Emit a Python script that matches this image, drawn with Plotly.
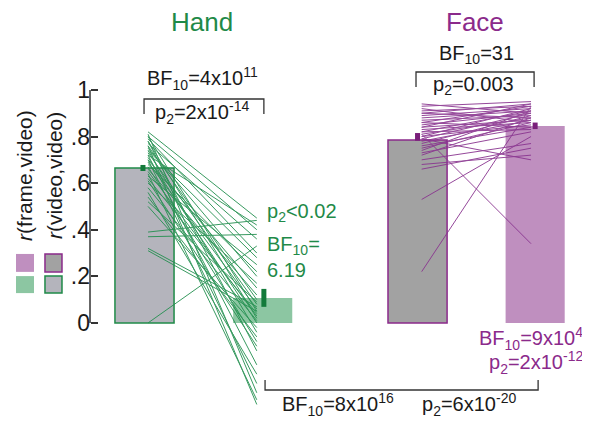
import plotly.graph_objects as go

# ---------------- data ----------------
conditions = ["Hand", "Face"]
bar_x = [0.0, 1.0, 2.31, 3.305]               # hand-frame, hand-video, face-frame, face-video
bar_means = [0.665, 0.107, 0.785, 0.845]
sem_low = [0.652, 0.069, 0.782, 0.832]
sem_high = [0.678, 0.146, 0.815, 0.860]

hand_frame = [0.82, 0.81, 0.80, 0.80, 0.79, 0.78, 0.78, 0.77, 0.76, 0.76, 0.75, 0.74, 0.74,
              0.73, 0.72, 0.72, 0.71, 0.70, 0.70, 0.69, 0.68, 0.67, 0.66, 0.65, 0.64, 0.63,
              0.62, 0.61, 0.60, 0.58, 0.56, 0.54, 0.52, 0.50, 0.39, 0.37, 0.32, 0.31, 0.00]
hand_video = [0.45, -0.30, 0.40, 0.05, 0.30, -0.12, 0.02, 0.36, -0.35, 0.10, 0.20, -0.04, 0.28,
              0.08, -0.18, 0.42, 0.00, 0.15, -0.26, 0.06, 0.22, -0.08, 0.12, 0.03, -0.33, 0.25,
              0.04, -0.10, 0.17, 0.01, -0.22, -0.06, 0.09, -0.02, 0.44, 0.38, 0.07, 0.05, 0.33]

face_frame = [0.94, 0.93, 0.92, 0.91, 0.90, 0.90, 0.89, 0.88, 0.87, 0.86, 0.86, 0.85, 0.84,
              0.84, 0.83, 0.82, 0.82, 0.81, 0.80, 0.80, 0.79, 0.78, 0.77, 0.76, 0.75, 0.74,
              0.73, 0.72, 0.70, 0.68, 0.66, 0.53, 0.22, 0.81, 0.79]
face_video = [0.90, 0.95, 0.86, 0.93, 0.94, 0.88, 0.92, 0.91, 0.89, 0.93, 0.84, 0.90, 0.87,
              0.94, 0.86, 0.91, 0.83, 0.88, 0.92, 0.85, 0.90, 0.87, 0.89, 0.84, 0.86, 0.91,
              0.82, 0.88, 0.77, 0.72, 0.75, 0.80, 0.93, 0.34, 0.70]

tick_vals = [0, 0.2, 0.4, 0.6, 0.8, 1.0]
tick_text = ["0", ".2", ".4", ".6", ".8", "1"]

# ---------------- styles ----------------
FONT = "Liberation Sans, Arial, sans-serif"
GREEN_TXT = "#1f8a48"
PURPLE_TXT = "#8b2a8b"
GREEN_LINE = "#249050"
PURPLE_LINE = "#8a3590"
GREEN_DARK = "#137a3a"
PURPLE_DARK = "#7a1f7a"
GREEN_LIGHT = "#8cc6a2"
PURPLE_LIGHT = "#bf8fbf"
GRAY_HAND = "#b4b4bc"
GRAY_FACE = "#a2a2a2"
BLACK = "#1a1a1a"

fig = go.Figure()

# bars
bar_fill = [GRAY_HAND, GREEN_LIGHT, GRAY_FACE, PURPLE_LIGHT]
bar_edge = [GREEN_TXT, GREEN_LIGHT, PURPLE_TXT, PURPLE_LIGHT]
bar_edge_w = [1.5, 0, 1.5, 0]
for i in range(4):
    fig.add_trace(go.Bar(x=[bar_x[i]], y=[bar_means[i]], width=0.5,
                         marker=dict(color=bar_fill[i], line=dict(color=bar_edge[i], width=bar_edge_w[i])),
                         showlegend=False, hoverinfo="skip"))

# subject lines
def pair_lines(x0, x1, a, b):
    xs, ys = [], []
    for u, v in zip(a, b):
        xs += [x0, x1, None]
        ys += [u, v, None]
    return xs, ys

hx, hy = pair_lines(bar_x[0] + 0.03, bar_x[1] - 0.05, hand_frame, hand_video)
fig.add_trace(go.Scatter(x=hx, y=hy, mode="lines", line=dict(color=GREEN_LINE, width=1),
                         opacity=0.9, showlegend=False, hoverinfo="skip"))
fx, fy = pair_lines(bar_x[2] + 0.035, bar_x[3] - 0.035, face_frame, face_video)
fig.add_trace(go.Scatter(x=fx, y=fy, mode="lines", line=dict(color=PURPLE_LINE, width=1),
                         opacity=0.9, showlegend=False, hoverinfo="skip"))

# SEM markers
sem_cols = [GREEN_DARK, GREEN_DARK, PURPLE_DARK, PURPLE_DARK]
sem_dx = [-0.013, 0.01, 0.0, 0.0]
for i in range(4):
    fig.add_trace(go.Scatter(x=[bar_x[i] + sem_dx[i]] * 2, y=[sem_low[i], sem_high[i]], mode="lines",
                             line=dict(color=sem_cols[i], width=5), showlegend=False, hoverinfo="skip"))

# y-axis line
fig.add_shape(type="line", x0=-0.461, x1=-0.461, y0=0, y1=1, line=dict(color="#333333", width=1.5))

# brackets
def bracket(x0, x1, y, y_end):
    fig.add_shape(type="path",
                  path=f"M {x0} {y_end} L {x0} {y} L {x1} {y} L {x1} {y_end}",
                  line=dict(color="#333333", width=1.3))

bracket(-0.004, 1.01, 0.961, 0.897)
bracket(2.297, 3.296, 1.077, 1.013)
bracket(1.02, 3.33, -0.288, -0.245)

# legend squares
def square(x0, x1, y0, y1, fill, edge=None):
    fig.add_shape(type="rect", x0=x0, x1=x1, y0=y0, y1=y1, fillcolor=fill,
                  line=dict(color=edge if edge else fill, width=1.5 if edge else 0))

square(-1.087, -0.935, 0.219, 0.296, PURPLE_LIGHT)
square(-1.087, -0.935, 0.128, 0.201, GREEN_LIGHT)
square(-0.842, -0.698, 0.219, 0.296, GRAY_FACE, PURPLE_TXT)
square(-0.842, -0.698, 0.128, 0.201, GRAY_HAND, GREEN_TXT)

# annotations
def txt(x, y, s, size=20, color=BLACK, xanchor="center", angle=0):
    fig.add_annotation(x=x, y=y, xref="x", yref="y", text=s, showarrow=False,
                       xanchor=xanchor, yanchor="middle", textangle=angle,
                       font=dict(family=FONT, size=size, color=color))

txt(0.49, 1.292, conditions[0], 26, GREEN_TXT)
txt(2.80, 1.292, conditions[1], 26, PURPLE_TXT)
txt(0.49, 1.051, "BF<sub>10</sub>=4x10<sup>11</sup>")
txt(0.484, 0.905, "p<sub>2</sub>=2x10<sup>-14</sup>")
txt(2.805, 1.15, "BF<sub>10</sub>=31")
txt(2.78, 1.021, "p<sub>2</sub>=0.003")
txt(1.02, 0.472, "p<sub>2</sub>&lt;0.02", 20, GREEN_TXT, "left")
txt(1.02, 0.334, "BF<sub>10</sub>=", 20, GREEN_TXT, "left")
txt(1.02, 0.227, "6.19", 20, GREEN_TXT, "left")
txt(3.727, -0.065, "BF<sub>10</sub>=9x10<sup>4</sup>", 20, PURPLE_TXT, "right")
txt(3.727, -0.172, "p<sub>2</sub>=2x10<sup>-12</sup>", 20, PURPLE_TXT, "right")
txt(1.146, -0.352, "BF<sub>10</sub>=8x10<sup>16</sup>", 20, BLACK, "left")
txt(2.33, -0.352, "p<sub>2</sub>=6x10<sup>-20</sup>", 20, BLACK, "left")
txt(-1.011, 0.631, "<i>r</i>(frame,video)", 21, BLACK, "center", -90)
txt(-0.757, 0.631, "<i>r</i>(video,video)", 21, BLACK, "center", -90)

# page body has an 8px margin: figure spans reference pixels 8..590 x 8..421
fig.update_layout(
    width=582, height=413,
    margin=dict(l=0, r=0, t=0, b=0),
    paper_bgcolor="white", plot_bgcolor="white",
    barmode="overlay", showlegend=False,
    xaxis=dict(range=[-1.1548, 3.769], visible=False, fixedrange=True),
    yaxis=dict(range=[-0.421, 1.3517], anchor="free", position=0.1409, side="left",
               tickvals=tick_vals, ticktext=tick_text, ticks="inside", ticklen=7,
               tickwidth=1.5, tickcolor="#333333", showgrid=False, zeroline=False,
               showline=False, automargin=False,
               tickfont=dict(family=FONT, size=23, color=BLACK)),
)

fig.write_html("out.html")
